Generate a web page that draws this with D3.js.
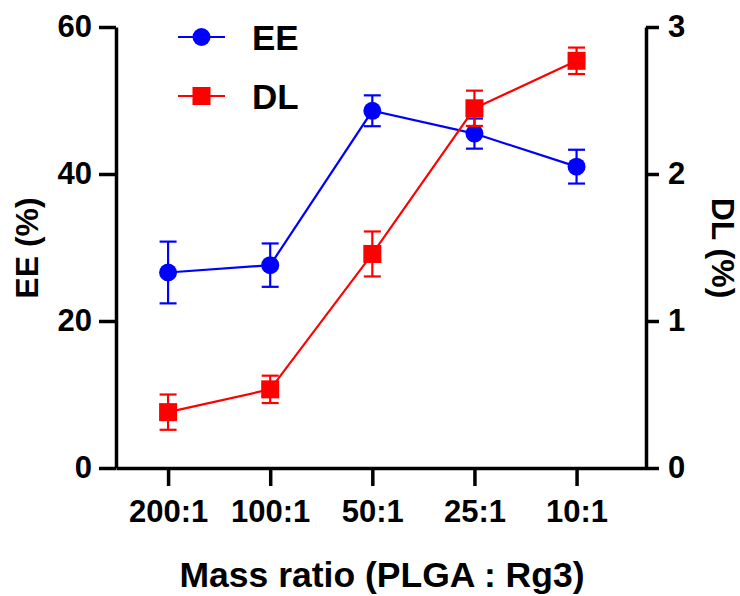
<!DOCTYPE html>
<html>
<head>
<meta charset="utf-8">
<script src="https://cdn.jsdelivr.net/npm/d3@7"></script>
<style>
  body { margin: 0; background: #fff; }
  svg { font-family: "Liberation Sans", Arial, sans-serif; font-weight: bold; }
</style>
</head>
<body>
<div id="container"></div>
<script>
// chart data
const ratios = ["200:1", "100:1", "50:1", "25:1", "10:1"];
const eeValues = [26.6, 27.6, 48.6, 45.5, 41.0];
const eeErrors = [4.2, 2.95, 2.1, 2.05, 2.3];
const dlValues = [0.38, 0.535, 1.456, 2.447, 2.77];
const dlErrors = [0.12, 0.093, 0.153, 0.12, 0.09];
const eeTicks = [0, 20, 40, 60];
const dlTicks = [0, 1, 2, 3];

const w = 740;
const h = 596;
const svg = d3.select("#container")
  .append("svg")
  .attr("width", w)
  .attr("height", h);

const plotLeft = 116, plotRight = 646, plotTop = 27, plotBottom = 468;

const xScale = d3.scaleLinear()
  .domain([-0.51, 4.68])
  .range([plotLeft, plotRight]);

const yLeft = d3.scaleLinear()
  .domain([0, 60])
  .range([plotBottom, plotTop]);

const yRight = d3.scaleLinear()
  .domain([0, 3])
  .range([plotBottom, plotTop]);

function styleAxis(g, size) {
  g.select(".domain").attr("stroke", "#000").attr("stroke-width", 3.5);
  g.selectAll(".tick line").attr("stroke", "#000").attr("stroke-width", 3.5);
  g.selectAll(".tick text")
    .attr("fill", "#000")
    .style("font-size", size + "px")
    .style("font-weight", "bold");
}

// x axis
const xAxis = d3.axisBottom(xScale)
  .tickValues(d3.range(ratios.length))
  .tickFormat((i) => ratios[i])
  .tickSize(18)
  .tickSizeOuter(0)
  .tickPadding(14);
svg.append("g")
  .attr("transform", "translate(0," + plotBottom + ")")
  .call(xAxis)
  .call((g) => styleAxis(g, 31));

// left y axis
const leftAxis = d3.axisLeft(yLeft)
  .tickValues(eeTicks)
  .tickSize(17)
  .tickSizeOuter(0)
  .tickPadding(7);
svg.append("g")
  .attr("transform", "translate(" + plotLeft + ",0)")
  .call(leftAxis)
  .call((g) => styleAxis(g, 31));

// right y axis
const rightAxis = d3.axisRight(yRight)
  .tickValues(dlTicks)
  .tickFormat(d3.format("d"))
  .tickSize(13)
  .tickSizeOuter(0)
  .tickPadding(9);
svg.append("g")
  .attr("transform", "translate(" + plotRight + ",0)")
  .call(rightAxis)
  .call((g) => styleAxis(g, 31));

// axis titles
svg.append("text")
  .attr("transform", "translate(38,248) rotate(-90)")
  .attr("text-anchor", "middle")
  .style("font-size", "32px")
  .text("EE (%)");

svg.append("text")
  .attr("transform", "translate(712,248) rotate(90)")
  .attr("text-anchor", "middle")
  .style("font-size", "32px")
  .text("DL (%)");

svg.append("text")
  .attr("x", 382)
  .attr("y", 587)
  .attr("text-anchor", "middle")
  .style("font-size", "35.5px")
  .text("Mass ratio (PLGA : Rg3)");

function drawSeries(values, errors, yScale, color, shape) {
  const g = svg.append("g");
  const line = d3.line()
    .x((d, i) => xScale(i))
    .y((d) => yScale(d));
  g.append("path")
    .datum(values)
    .attr("fill", "none")
    .attr("stroke", color)
    .attr("stroke-width", 2.2)
    .attr("d", line);

  const err = g.selectAll(".err")
    .data(values)
    .enter()
    .append("g");
  err.append("line")
    .attr("x1", (d, i) => xScale(i))
    .attr("x2", (d, i) => xScale(i))
    .attr("y1", (d, i) => yScale(d - errors[i]))
    .attr("y2", (d, i) => yScale(d + errors[i]))
    .attr("stroke", color)
    .attr("stroke-width", 2.2);
  err.append("line")
    .attr("x1", (d, i) => xScale(i) - 8.5)
    .attr("x2", (d, i) => xScale(i) + 8.5)
    .attr("y1", (d, i) => yScale(d + errors[i]))
    .attr("y2", (d, i) => yScale(d + errors[i]))
    .attr("stroke", color)
    .attr("stroke-width", 2.2);
  err.append("line")
    .attr("x1", (d, i) => xScale(i) - 8.5)
    .attr("x2", (d, i) => xScale(i) + 8.5)
    .attr("y1", (d, i) => yScale(d - errors[i]))
    .attr("y2", (d, i) => yScale(d - errors[i]))
    .attr("stroke", color)
    .attr("stroke-width", 2.2);

  if (shape === "circle") {
    g.selectAll("circle")
      .data(values)
      .enter()
      .append("circle")
      .attr("cx", (d, i) => xScale(i))
      .attr("cy", (d) => yScale(d))
      .attr("r", 9)
      .attr("fill", color);
  } else {
    g.selectAll("rect")
      .data(values)
      .enter()
      .append("rect")
      .attr("x", (d, i) => xScale(i) - 9)
      .attr("y", (d) => yScale(d) - 9)
      .attr("width", 18)
      .attr("height", 18)
      .attr("fill", color);
  }
}

drawSeries(eeValues, eeErrors, yLeft, "#0000ff", "circle");
drawSeries(dlValues, dlErrors, yRight, "#ff0000", "square");

// legend
const legend = svg.append("g");
legend.append("line")
  .attr("x1", 178).attr("x2", 225)
  .attr("y1", 37).attr("y2", 37)
  .attr("stroke", "#0000ff").attr("stroke-width", 2.2);
legend.append("circle")
  .attr("cx", 201.5).attr("cy", 37).attr("r", 9)
  .attr("fill", "#0000ff");
legend.append("text")
  .attr("x", 252).attr("y", 50)
  .style("font-size", "35px")
  .text("EE");
legend.append("line")
  .attr("x1", 178).attr("x2", 225)
  .attr("y1", 96).attr("y2", 96)
  .attr("stroke", "#ff0000").attr("stroke-width", 2.2);
legend.append("rect")
  .attr("x", 192.5).attr("y", 87).attr("width", 18).attr("height", 18)
  .attr("fill", "#ff0000");
legend.append("text")
  .attr("x", 252).attr("y", 109)
  .style("font-size", "35px")
  .text("DL");
</script>
</body>
</html>
